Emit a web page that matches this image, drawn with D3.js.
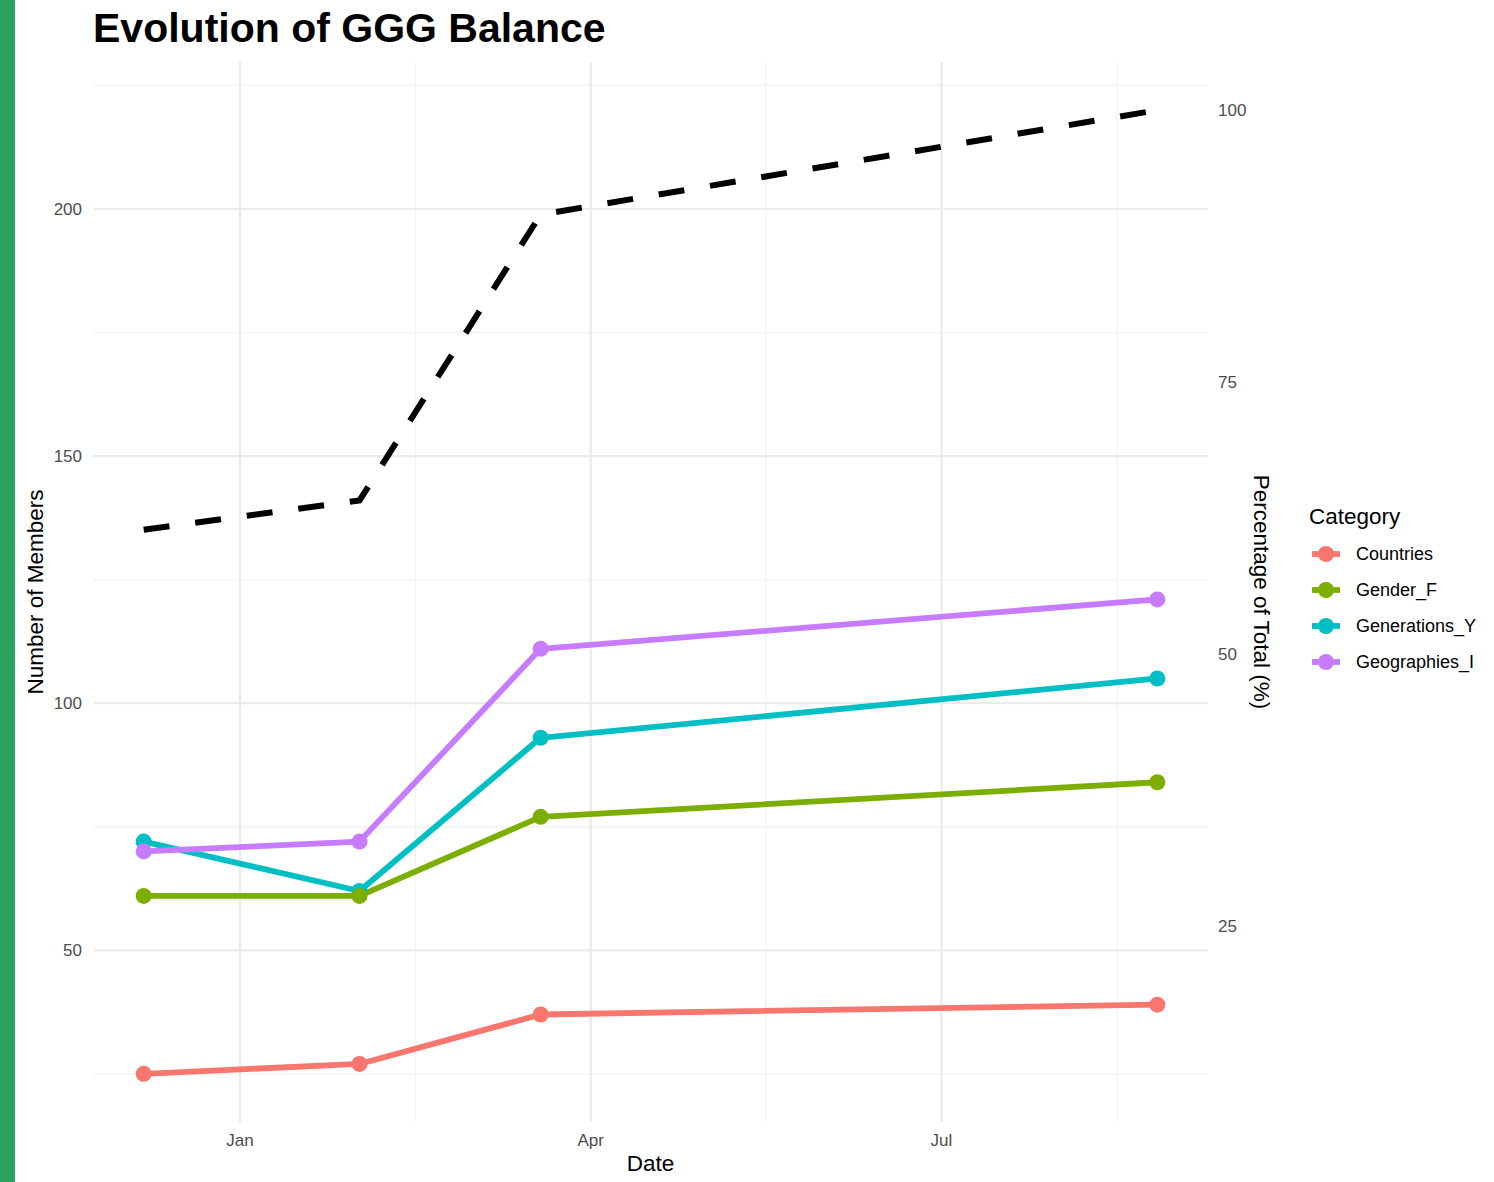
<!DOCTYPE html>
<html><head><meta charset="utf-8">
<script src="https://d3js.org/d3.v7.min.js"></script>
<style>body{margin:0;background:#fff}svg{display:block}</style>
</head><body>
<svg id="c" width="1494" height="1182"></svg>
<script>
// ---- data ----
const dates = ["2023-12-07", "2024-02-01", "2024-03-19", "2024-08-26"];
const categories = ["Countries", "Gender_F", "Generations_Y", "Geographies_I"];
const countries = [25, 27, 37, 39];
const genderF = [61, 61, 77, 84];
const generationsY = [72, 62, 93, 105];
const geographiesI = [70, 72, 111, 121];
const totalPct = [61.4, 64.1, 90.4, 100];      // percentage of total (right axis)
const pctFactor = 2.2;                          // secondary axis: members = pct * 2.2
const leftTicks = [50, 100, 150, 200];
const rightTicks = [25, 50, 75, 100];
const xTickLabels = ["Jan", "Apr", "Jul"];
const xTickDates = ["2024-01-01", "2024-04-01", "2024-07-01"];
const colors = ["#F8766D", "#7CAE00", "#00BFC4", "#C77CFF"];

const parse = d3.utcParse("%Y-%m-%d");
const D = dates.map(parse);
const seriesVals = [countries, genderF, generationsY, geographiesI];

const svg = d3.select("#c");
svg.append("rect").attr("x", 0).attr("y", 0).attr("width", 15).attr("height", 1182).attr("fill", "#29a25f");

const L = 93, R = 1208, T = 62, B = 1122;
const ext = d3.extent(D);
const span = ext[1] - ext[0];
const x = d3.scaleUtc().domain([new Date(+ext[0] - span * 0.05), new Date(+ext[1] + span * 0.05)]).range([L, R]);

const allLeft = seriesVals.flat().concat(totalPct.map(p => p * pctFactor));
const ymin = d3.min(allLeft), ymax = d3.max(allLeft), yr = ymax - ymin;
const y = d3.scaleLinear().domain([ymin - yr * 0.05, ymax + yr * 0.05]).range([B, T]);
const yR = d3.scaleLinear().domain(y.domain().map(v => v / pctFactor)).range([B, T]);

const grid = svg.append("g");
// minor y
const yMinor = [];
for (let i = 0; i < leftTicks.length + 1; i++) {
  const v = (i === 0 ? leftTicks[0] - 25 : leftTicks[i - 1] + 25);
  yMinor.push(v);
}
yMinor.filter(v => v >= y.domain()[0] && v <= y.domain()[1]).forEach(v => {
  grid.append("line").attr("x1", L).attr("x2", R).attr("y1", y(v)).attr("y2", y(v)).attr("stroke", "#f3f3f3").attr("stroke-width", 1.3);
});
const XT = xTickDates.map(parse);
const xMinor = [];
for (let i = 0; i < XT.length - 1; i++) xMinor.push(new Date((+XT[i] + +XT[i + 1]) / 2));
xMinor.push(new Date(+XT[XT.length - 1] + (XT[1] - XT[0]) / 2));
xMinor.forEach(d => {
  grid.append("line").attr("x1", x(d)).attr("x2", x(d)).attr("y1", T).attr("y2", B).attr("stroke", "#f3f3f3").attr("stroke-width", 1.3);
});
leftTicks.forEach(v => {
  grid.append("line").attr("x1", L).attr("x2", R).attr("y1", y(v)).attr("y2", y(v)).attr("stroke", "#ebebeb").attr("stroke-width", 2.2);
});
XT.forEach(d => {
  grid.append("line").attr("x1", x(d)).attr("x2", x(d)).attr("y1", T).attr("y2", B).attr("stroke", "#ebebeb").attr("stroke-width", 2.2);
});

// axes labels
const font = "'Liberation Sans', Arial, sans-serif";
leftTicks.forEach(v => {
  svg.append("text").attr("x", 82).attr("y", y(v)).attr("dy", "0.35em").attr("text-anchor", "end")
    .attr("font-family", font).attr("font-size", 17).attr("fill", "#4d4d4d").text(v);
});
rightTicks.forEach(v => {
  svg.append("text").attr("x", 1218).attr("y", yR(v)).attr("dy", "0.35em").attr("text-anchor", "start")
    .attr("font-family", font).attr("font-size", 17).attr("fill", "#4d4d4d").text(v);
});
XT.forEach((d, i) => {
  svg.append("text").attr("x", x(d)).attr("y", 1146).attr("text-anchor", "middle")
    .attr("font-family", font).attr("font-size", 17).attr("fill", "#4d4d4d").text(xTickLabels[i]);
});

// titles
svg.append("text").attr("x", 93).attr("y", 42).attr("font-family", font).attr("font-weight", "bold")
  .attr("font-size", 41).attr("fill", "#000").text("Evolution of GGG Balance");
svg.append("text").attr("x", (L + R) / 2).attr("y", 1171).attr("text-anchor", "middle")
  .attr("font-family", font).attr("font-size", 22.5).attr("fill", "#000").text("Date");
svg.append("text").attr("transform", `translate(43,${(T + B) / 2}) rotate(-90)`).attr("text-anchor", "middle")
  .attr("font-family", font).attr("font-size", 22.5).attr("fill", "#000").text("Number of Members");
svg.append("text").attr("transform", `translate(1254,${(T + B) / 2}) rotate(90)`).attr("text-anchor", "middle")
  .attr("font-family", font).attr("font-size", 22.5).attr("fill", "#000").text("Percentage of Total (%)");

// series lines
const line = d3.line().x(d => x(d[0])).y(d => y(d[1]));
seriesVals.forEach((vals, i) => {
  svg.append("path").attr("d", line(D.map((d, j) => [d, vals[j]]))).attr("fill", "none")
    .attr("stroke", colors[i]).attr("stroke-width", 5.8).attr("stroke-linejoin", "round");
});
// points
[0, 2, 1, 3].forEach(i => {
  D.forEach((d, j) => {
    svg.append("circle").attr("cx", x(d)).attr("cy", y(seriesVals[i][j])).attr("r", 8).attr("fill", colors[i]);
  });
});
// dashed total
const lineR = d3.line().x(d => x(d[0])).y(d => yR(d[1]));
svg.append("path").attr("d", lineR(D.map((d, j) => [d, totalPct[j]]))).attr("fill", "none")
  .attr("stroke", "#000").attr("stroke-width", 6).attr("stroke-dasharray", "26,26");

// legend
svg.append("text").attr("x", 1309).attr("y", 524).attr("font-family", font).attr("font-size", 22.5).attr("fill", "#000").text("Category");
categories.forEach((c, i) => {
  const cy = 554 + i * 36;
  svg.append("line").attr("x1", 1312).attr("x2", 1340).attr("y1", cy).attr("y2", cy).attr("stroke", colors[i]).attr("stroke-width", 5.8);
  svg.append("circle").attr("cx", 1326).attr("cy", cy).attr("r", 8).attr("fill", colors[i]);
  svg.append("text").attr("x", 1356).attr("y", cy).attr("dy", "0.35em").attr("font-family", font).attr("font-size", 18).attr("fill", "#000").text(c);
});
</script>
</body></html>
